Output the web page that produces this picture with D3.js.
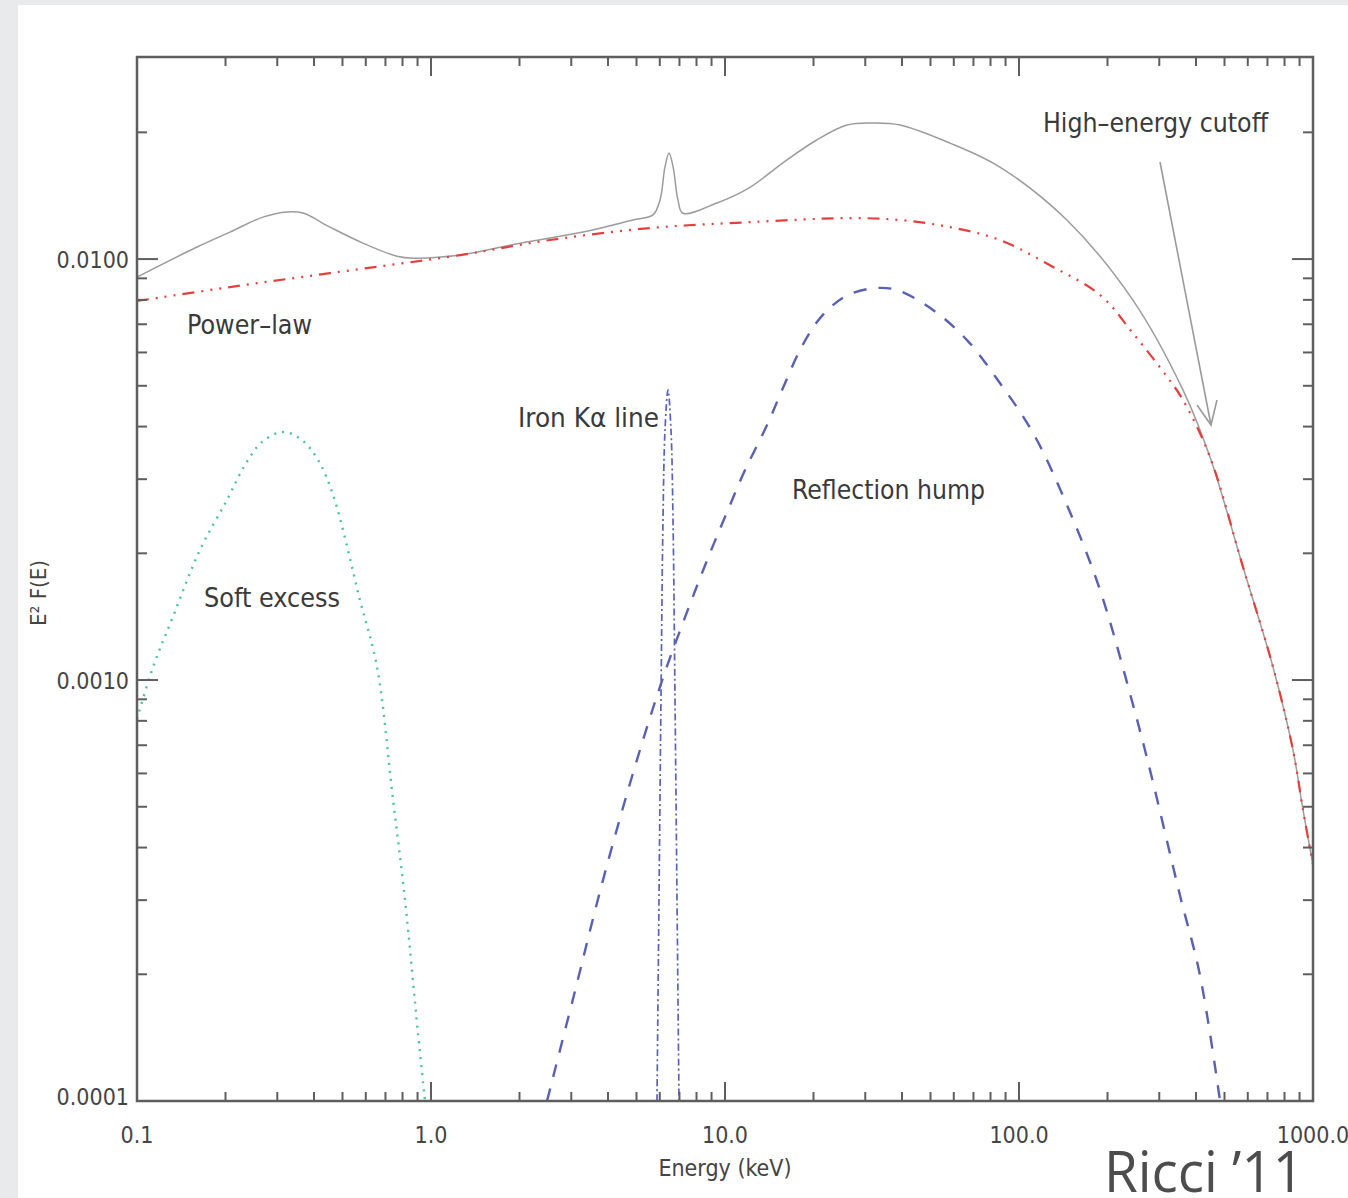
<!DOCTYPE html>
<html>
<head>
<meta charset="utf-8">
<script src="https://cdnjs.cloudflare.com/ajax/libs/d3/7.8.5/d3.min.js"></script>
<style>
  html, body { margin: 0; padding: 0; background: #e8eaec; }
  svg { display: block; }
</style>
</head>
<body>
<svg id="spectrum_svg" width="1348" height="1198"></svg>
<script>
// energies in keV, values in E^2 F(E)
var total_energy = [0.1, 0.16, 0.207, 0.268, 0.324, 0.367, 0.453, 0.587, 0.766, 0.869, 1.256, 2.01, 3.29, 4.86, 5.69, 6.01, 6.25, 6.45, 6.66, 6.92, 7.19, 9.39, 12.2, 15.7, 20.5, 26.0, 31.9, 39.4, 58.2, 86.1, 145.5, 244, 361, 446, 578, 731, 855, 925, 1000]
var total_value = [0.00906, 0.01068, 0.01159, 0.01258, 0.01294, 0.01286, 0.01191, 0.01091, 0.01016, 0.01005, 0.01022, 0.01091, 0.01159, 0.01238, 0.01273, 0.01380, 0.01655, 0.01786, 0.01655, 0.01380, 0.01285, 0.01359, 0.01483, 0.01691, 0.01918, 0.02082, 0.02105, 0.02082, 0.01886, 0.01654, 0.01238, 0.00799, 0.00489, 0.00339, 0.001855, 0.001074, 0.000682, 0.000491, 0.000364]

var powerlaw_energy = [0.1, 0.207, 0.453, 1.256, 2.54, 5.56, 12.2, 26.6, 39.4, 58.2, 86.1, 127, 189, 244, 319, 361, 446, 578, 731, 855, 925, 1000]
var powerlaw_value = [0.00795, 0.00858, 0.00926, 0.01022, 0.01110, 0.01185, 0.01224, 0.01251, 0.01238, 0.01191, 0.01110, 0.00968, 0.00821, 0.00667, 0.00525, 0.00463, 0.00339, 0.001855, 0.001074, 0.000682, 0.000491, 0.000364]

var soft_energy = [0.1, 0.1134, 0.1325, 0.1637, 0.2022, 0.2329, 0.2661, 0.3138, 0.364, 0.4128, 0.4645, 0.5734, 0.6553, 0.743, 0.816, 0.903, 0.954]
var soft_value = [0.000808, 0.001074, 0.001413, 0.002037, 0.002676, 0.003241, 0.003674, 0.003882, 0.003715, 0.003332, 0.002751, 0.001549, 0.001074, 0.000519, 0.0003, 0.000145, 0.0001]

var reflection_energy = [2.481, 3.138, 3.669, 4.395, 5.261, 6.251, 7.603, 8.892, 10.16, 11.70, 13.90, 15.74, 17.99, 20.55, 23.28, 26.61, 32.36, 38.46, 51.0, 66.53, 86.1, 111.6, 145.5, 188.6, 244.3, 279, 352.8, 412.6, 482.8]
var reflection_value = [0.0001, 0.0001907, 0.0002954, 0.0004701, 0.0007202, 0.001045, 0.001515, 0.002003, 0.002506, 0.003153, 0.004033, 0.004938, 0.006077, 0.007085, 0.007775, 0.008260, 0.008531, 0.008441, 0.007566, 0.006421, 0.005075, 0.003864, 0.002606, 0.001637, 0.000873, 0.000611, 0.000308, 0.000199, 0.0001]

var iron_energy = [5.870, 5.963, 6.057, 6.153, 6.251, 6.399, 6.551, 6.655, 6.760, 6.867, 6.975]
var iron_value = [0.0001, 0.0003, 0.000901, 0.002399, 0.003926, 0.004887, 0.003926, 0.002399, 0.000901, 0.0003, 0.0001]

var x_tick_values = [0.1, 1, 10, 100, 1000]
var x_tick_labels = ["0.1", "1.0", "10.0", "100.0", "1000.0"]
var y_tick_values = [0.0001, 0.001, 0.01]
var y_tick_labels = ["0.0001", "0.0010", "0.0100"]

var svg = d3.select("#spectrum_svg")
var plot_left = 137, plot_right = 1313, plot_top = 57, plot_bottom = 1101
var axis_color = "#5e5e5e"
var tick_font = "'Liberation Sans Narrow', 'DejaVu Sans Condensed', sans-serif"

var x = d3.scaleLog().domain([0.1, 1000]).range([plot_left, plot_right])
var y = d3.scaleLog().domain([0.0001, 0.0302]).range([plot_bottom, plot_top])

// page and panel
svg.append("rect").attr("width", 1348).attr("height", 1198).attr("fill", "#e8eaec")
svg.append("rect").attr("x", 18).attr("y", 5).attr("width", 1340).attr("height", 1200).attr("fill", "white")

svg.append("defs").append("clipPath").attr("id", "plot_clip")
    .append("rect")
    .attr("x", plot_left).attr("y", plot_top)
    .attr("width", plot_right - plot_left).attr("height", plot_bottom - plot_top)

function zip_points(xs, ys){
    var out = []
    for(var i = 0; i < xs.length; i++){
        out.push({e: xs[i], v: ys[i]})
    }
    return out
}

var line_gen = d3.line()
    .x(function(d){ return x(d.e) })
    .y(function(d){ return y(d.v) })
    .curve(d3.curveCatmullRom.alpha(0.5))

var curves = [
    {name: "soft", data: zip_points(soft_energy, soft_value), color: "#4fbf9c", width: 2.4, dash: "2,6"},
    {name: "reflection", data: zip_points(reflection_energy, reflection_value), color: "#5a60b2", width: 2.4, dash: "13,12"},
    {name: "iron", data: zip_points(iron_energy, iron_value), color: "#5a62b8", width: 1.7, dash: "7,3,2,3"},
    {name: "total", data: zip_points(total_energy, total_value), color: "#9c9c9c", width: 1.5, dash: null},
    {name: "powerlaw", data: zip_points(powerlaw_energy, powerlaw_value), color: "#e2403f", width: 2.2, dash: "12,7,2,7,2,7,2,7"}
]

var curve_group = svg.append("g").attr("clip-path", "url(#plot_clip)")
curve_group.selectAll("path")
    .data(curves)
    .enter().append("path")
    .attr("id", function(d){ return "curve_" + d.name })
    .attr("d", function(d){ return line_gen(d.data) })
    .attr("fill", "none")
    .attr("stroke", function(d){ return d.color })
    .attr("stroke-width", function(d){ return d.width })
    .attr("stroke-dasharray", function(d){ return d.dash })

// ticks on all four sides, majors ~20px, minors ~10px
var x_minor = [], y_minor = []
for(var dec = 0.1; dec < 1000; dec *= 10){
    for(var k = 2; k <= 9; k++){ x_minor.push(dec * k) }
}
for(var ydec = 0.0001; ydec < 0.03; ydec *= 10){
    for(var j = 2; j <= 9; j++){
        if(ydec * j < 0.0295){ y_minor.push(ydec * j) }
    }
}

var tick_group = svg.append("g").attr("stroke", axis_color).attr("stroke-width", 2)
function add_x_ticks(vals, len){
    vals.forEach(function(v){
        tick_group.append("line").attr("x1", x(v)).attr("x2", x(v)).attr("y1", plot_bottom).attr("y2", plot_bottom - len)
        tick_group.append("line").attr("x1", x(v)).attr("x2", x(v)).attr("y1", plot_top).attr("y2", plot_top + len)
    })
}
function add_y_ticks(vals, len){
    vals.forEach(function(v){
        tick_group.append("line").attr("y1", y(v)).attr("y2", y(v)).attr("x1", plot_left).attr("x2", plot_left + len)
        tick_group.append("line").attr("y1", y(v)).attr("y2", y(v)).attr("x1", plot_right).attr("x2", plot_right - len)
    })
}
add_x_ticks(x_minor, 9)
add_x_ticks(x_tick_values.slice(1, 4), 19)
add_y_ticks(y_minor, 10)
add_y_ticks(y_tick_values.slice(1), 21)

svg.append("rect")
    .attr("x", plot_left).attr("y", plot_top)
    .attr("width", plot_right - plot_left).attr("height", plot_bottom - plot_top)
    .attr("fill", "none").attr("stroke", axis_color).attr("stroke-width", 2.5)

// tick labels
svg.append("g").selectAll("text")
    .data(x_tick_values)
    .enter().append("text")
    .attr("x", function(d){ return x(d) })
    .attr("y", 1143)
    .attr("text-anchor", "middle")
    .attr("font-family", tick_font)
    .attr("font-size", 23)
    .attr("fill", "#444")
    .text(function(d, i){ return x_tick_labels[i] })

svg.append("g").selectAll("text")
    .data(y_tick_values)
    .enter().append("text")
    .attr("x", 129)
    .attr("y", function(d, i){ return y(d) + (i == 0 ? 4 : 9) })
    .attr("text-anchor", "end")
    .attr("font-family", tick_font)
    .attr("font-size", 23)
    .attr("fill", "#444")
    .text(function(d, i){ return y_tick_labels[i] })

svg.append("text")
    .attr("x", 725).attr("y", 1176)
    .attr("text-anchor", "middle")
    .attr("font-family", tick_font)
    .attr("font-size", 23)
    .attr("fill", "#444")
    .text("Energy (keV)")

svg.append("text")
    .attr("transform", "translate(46,593) rotate(-90)")
    .attr("text-anchor", "middle")
    .attr("font-family", tick_font)
    .attr("font-size", 22)
    .attr("fill", "#444")
    .text("E² F(E)")

// component labels
var notes = [
    {text: "Power–law", x: 187, y: 334, w: 125},
    {text: "Iron Kα line", x: 518, y: 427, w: 141},
    {text: "Reflection hump", x: 792, y: 499, w: 193},
    {text: "Soft excess", x: 204, y: 607, w: 136},
    {text: "High–energy cutoff", x: 1043, y: 132, w: 225}
]
svg.append("g").selectAll("text")
    .data(notes)
    .enter().append("text")
    .attr("x", function(d){ return d.x })
    .attr("y", function(d){ return d.y })
    .attr("textLength", function(d){ return d.w })
    .attr("lengthAdjust", "spacingAndGlyphs")
    .attr("font-family", tick_font)
    .attr("font-size", 27)
    .attr("fill", "#3a3a3a")
    .text(function(d){ return d.text })

// arrow to the cutoff
var arrow = svg.append("g").attr("stroke", "#9a9a9a").attr("stroke-width", 1.6).attr("fill", "none")
arrow.append("line").attr("x1", 1160).attr("y1", 162).attr("x2", 1211).attr("y2", 425)
arrow.append("polyline").attr("points", "1197,405 1211,425 1217,400")

svg.append("text")
    .attr("x", 1104).attr("y", 1192)
    .attr("textLength", 200)
    .attr("lengthAdjust", "spacingAndGlyphs")
    .attr("font-family", "'Open Sans', sans-serif")
    .attr("font-size", 56)
    .attr("fill", "#4d4d4d")
    .text("Ricci ’11")
</script>
</body>
</html>
